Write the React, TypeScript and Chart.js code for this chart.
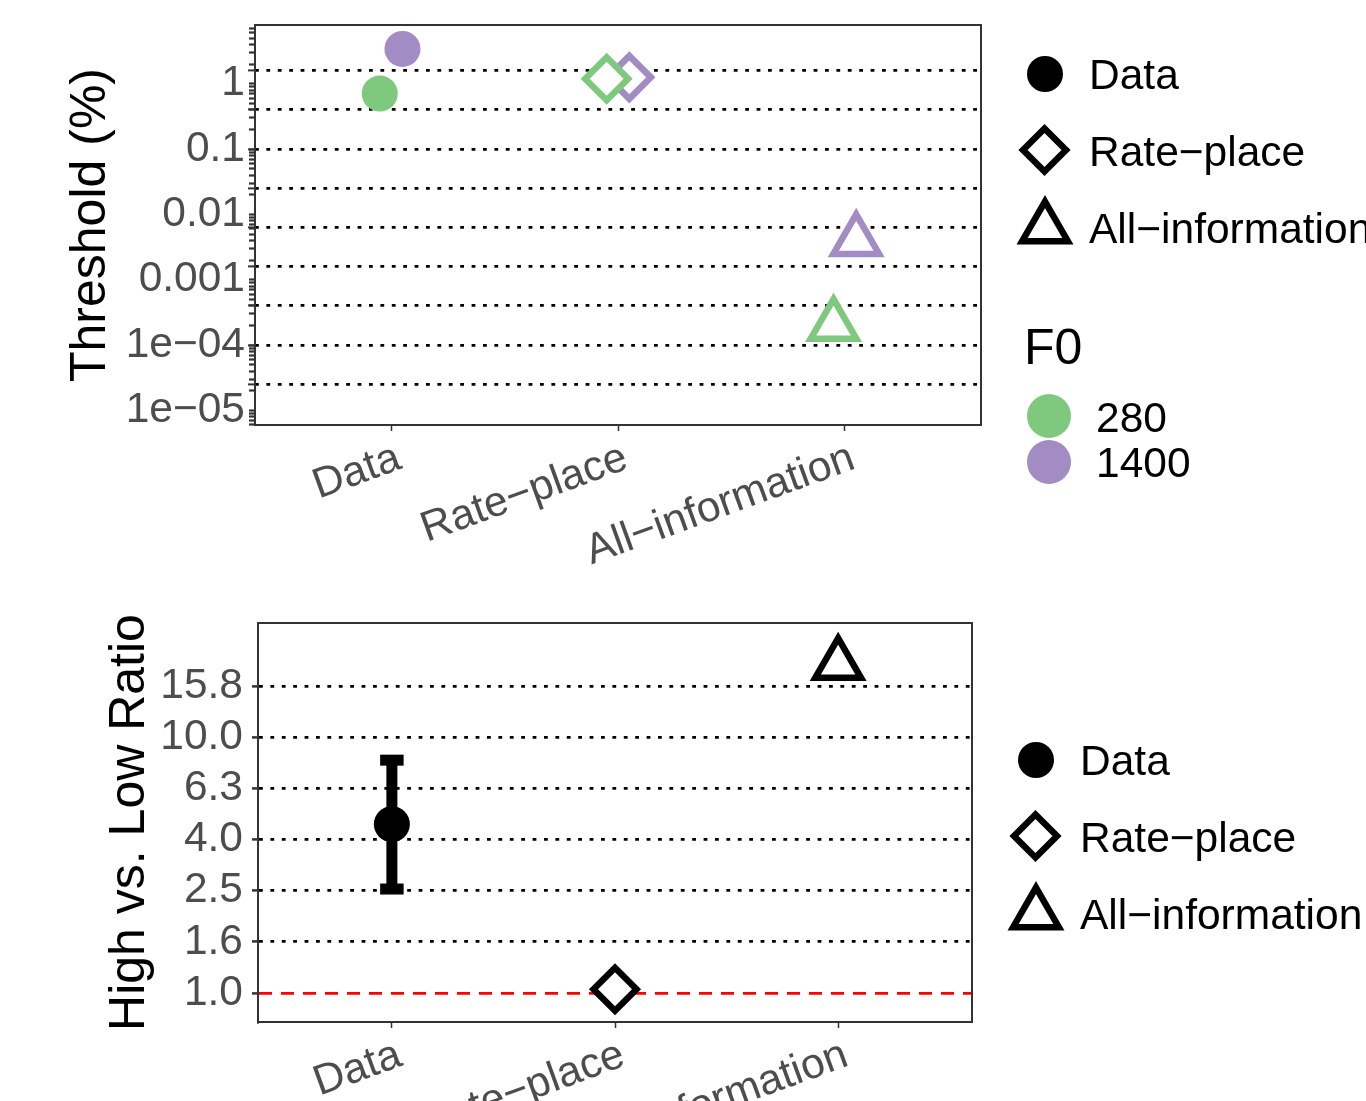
import React, { useEffect, useRef } from 'react';
import { Chart, registerables } from 'chart.js';

Chart.register(...registerables);

const FONT = "'Liberation Sans', Arial, Helvetica, sans-serif";
Chart.defaults.font.family = FONT;

// ---------- data ----------
const models = ['Data', 'Rate−place', 'All−information'];
const f0Levels = ['280', '1400'];
const threshold280 = [0.707, 1.19, 0.000199];
const threshold1400 = [3.4, 1.25, 0.00395];

const thresholdLabelTicks = [1e-5, 1e-4, 1e-3, 1e-2, 0.1, 1];
const thresholdLabels = ['1e−05', '1e−04', '0.001', '0.01', '0.1', '1'];
const thresholdGridTicks = [2.512e-5, 1e-4, 3.981e-4, 1.585e-3, 6.31e-3, 0.02512, 0.1, 0.3981, 1.585];
const logMantissas = [1, 2, 3, 4, 5, 6, 7, 8, 9];
const logDecades = [1e-6, 1e-5, 1e-4, 1e-3, 1e-2, 1e-1, 1];

const ratioValues = [4.57, 1.035, 19.2];
const ratioErrLow = [2.55];
const ratioErrHigh = [8.13];
const ratioTicks = [1, 1.585, 2.512, 3.981, 6.31, 10, 15.85];
const ratioLabels = ['1.0', '1.6', '2.5', '4.0', '6.3', '10.0', '15.8'];

// ---------- styles ----------
const GREEN = '#7FC97F';
const PURPLE = '#A38BC3';
const TICK_COLOR = '#4D4D4D';
const FRAME = '#333333';
const DODGE = 0.05;
const SMALL = 42.5;
const BIG = 50;
const shapeStyles = ['circle', 'rectRot', 'triangle'];
const shapeRadius = [18, 21.5, 26.4];
const shapeBorder = [0, 6.5, 6.5];

const TOP_MIN = Math.pow(10, -5.224);
const TOP_MAX = Math.pow(10, 0.898);
const BOT_MIN = Math.pow(10, -0.113);
const BOT_MAX = Math.pow(10, 1.446);

const zeroPad = (s: any) => {
  s.paddingLeft = 0;
  s.paddingRight = 0;
  s.paddingTop = 0;
  s.paddingBottom = 0;
};

function seriesDataset(values: number[], color: string, dx: number) {
  return {
    xAxisID: 'x',
    yAxisID: 'y',
    data: values.map((v, i) => ({ x: i + dx, y: v })),
    showLine: false,
    pointStyle: shapeStyles,
    pointRadius: shapeRadius,
    pointHoverRadius: shapeRadius,
    pointBorderWidth: shapeBorder,
    pointBackgroundColor: values.map((_, i) => (i === 0 ? color : '#FFFFFF')),
    pointBorderColor: color,
  };
}

function xAxis(height: number) {
  return {
    type: 'linear',
    position: 'bottom',
    min: -0.6,
    max: 2.6,
    bounds: 'data',
    afterBuildTicks: (s: any) => {
      s.ticks = models.map((_, i) => ({ value: i }));
    },
    ticks: {
      autoSkip: false,
      minRotation: 20,
      maxRotation: 20,
      labelOffset: 8,
      padding: 2,
      color: TICK_COLOR,
      font: { size: SMALL, family: FONT },
      callback: (v: any) => models[Math.round(Number(v))],
    },
    grid: { display: true, drawOnChartArea: false, drawTicks: true, tickLength: 6, tickColor: FRAME, tickWidth: 1.5 },
    border: { display: true, color: FRAME, width: 2 },
    afterFit: (s: any) => {
      s.height = height;
      zeroPad(s);
    },
  };
}

const frameTop = {
  type: 'linear',
  position: 'top',
  min: 0,
  max: 1,
  ticks: { display: false },
  grid: { display: false, drawTicks: false },
  border: { display: true, color: FRAME, width: 2 },
  afterFit: (s: any) => {
    s.height = 0;
    zeroPad(s);
  },
};
const frameRight = {
  type: 'linear',
  position: 'right',
  min: 0,
  max: 1,
  ticks: { display: false },
  grid: { display: false, drawTicks: false },
  border: { display: true, color: FRAME, width: 2 },
  afterFit: (s: any) => {
    s.width = 0;
    zeroPad(s);
  },
};

function topConfig(): any {
  const minorTicks = logDecades
    .flatMap((d) => logMantissas.map((m) => m * d))
    .filter((v) => v >= TOP_MIN && v <= TOP_MAX);
  return {
    type: 'scatter',
    data: {
      // green first so it is drawn on top of purple
      datasets: [seriesDataset(threshold280, GREEN, -DODGE), seriesDataset(threshold1400, PURPLE, DODGE)],
    },
    options: {
      responsive: false,
      animation: false,
      events: [],
      layout: { autoPadding: false, padding: { left: 0, right: 385, top: 25, bottom: 0 } },
      plugins: { legend: { display: false }, tooltip: { enabled: false } },
      scales: {
        x: xAxis(155),
        y: {
          type: 'logarithmic',
          position: 'left',
          weight: 10,
          min: TOP_MIN,
          max: TOP_MAX,
          bounds: 'data',
          afterBuildTicks: (s: any) => {
            s.ticks = thresholdLabelTicks.map((v) => ({ value: v }));
          },
          ticks: {
            autoSkip: false,
            padding: 10,
            color: TICK_COLOR,
            font: { size: SMALL, family: FONT },
            callback: (_v: any, i: number) => thresholdLabels[i],
          },
          grid: { display: false, drawTicks: false },
          border: { display: true, color: FRAME, width: 2 },
          title: {
            display: true,
            text: 'Threshold (%)',
            color: '#000000',
            font: { size: BIG, family: FONT },
            padding: { top: 61, bottom: 0 },
          },
          afterFit: (s: any) => {
            s.width = 255;
            zeroPad(s);
          },
        },
        yGrid: {
          type: 'logarithmic',
          position: 'left',
          weight: 0,
          min: TOP_MIN,
          max: TOP_MAX,
          bounds: 'data',
          afterBuildTicks: (s: any) => {
            s.ticks = thresholdGridTicks.map((v) => ({ value: v }));
          },
          ticks: { display: false },
          grid: {
            display: true,
            drawOnChartArea: true,
            color: '#000000',
            lineWidth: 2.8,
            drawTicks: true,
            tickLength: 7,
            tickColor: FRAME,
            tickWidth: 2,
            tickBorderDash: [],
          },
          border: { display: false, dash: [3.8, 7.6] },
          afterFit: (s: any) => {
            s.width = 0;
            zeroPad(s);
          },
        },
        yMinor: {
          type: 'logarithmic',
          position: 'left',
          weight: 0,
          min: TOP_MIN,
          max: TOP_MAX,
          bounds: 'data',
          afterBuildTicks: (s: any) => {
            s.ticks = minorTicks.map((v) => ({ value: v }));
          },
          ticks: { display: false },
          grid: {
            display: true,
            drawOnChartArea: false,
            drawTicks: true,
            tickLength: 6,
            tickColor: FRAME,
            tickWidth: 2.2,
          },
          border: { display: false },
          afterFit: (s: any) => {
            s.width = 0;
            zeroPad(s);
          },
        },
        xTop: frameTop,
        yRight: frameRight,
      },
    },
  };
}

function bottomConfig(): any {
  const isOne = (c: any) => c && c.tick && c.tick.value === 1;
  return {
    type: 'scatter',
    data: {
      datasets: [
        {
          xAxisID: 'x',
          yAxisID: 'y',
          data: ratioValues.map((v, i) => ({ x: i, y: v })),
          showLine: false,
          pointStyle: shapeStyles,
          pointRadius: shapeRadius,
          pointHoverRadius: shapeRadius,
          pointBorderWidth: shapeBorder,
          pointBackgroundColor: ratioValues.map((_, i) => (i === 0 ? '#000000' : '#FFFFFF')),
          pointBorderColor: '#000000',
        },
        {
          xAxisID: 'x',
          yAxisID: 'y',
          data: ratioErrLow.flatMap((lo, i) => [
            { x: i, y: lo },
            { x: i, y: ratioErrHigh[i] },
          ]),
          showLine: true,
          borderColor: '#000000',
          borderWidth: 11,
          pointRadius: 0,
          pointHoverRadius: 0,
        },
        {
          xAxisID: 'x',
          yAxisID: 'y',
          data: ratioErrLow.flatMap((lo, i) => [
            { x: i, y: lo },
            { x: i, y: ratioErrHigh[i] },
          ]),
          showLine: false,
          pointStyle: 'line',
          pointRadius: 11.75,
          pointHoverRadius: 11.75,
          pointBorderWidth: 11,
          pointBorderColor: '#000000',
        },
      ],
    },
    options: {
      responsive: false,
      animation: false,
      events: [],
      layout: { autoPadding: false, padding: { left: 0, right: 394, top: 43, bottom: 0 } },
      plugins: { legend: { display: false }, tooltip: { enabled: false } },
      scales: {
        x: xAxis(158),
        y: {
          type: 'logarithmic',
          position: 'left',
          min: BOT_MIN,
          max: BOT_MAX,
          bounds: 'data',
          afterBuildTicks: (s: any) => {
            s.ticks = ratioTicks.map((v) => ({ value: v }));
          },
          ticks: {
            autoSkip: false,
            padding: 9,
            color: TICK_COLOR,
            font: { size: SMALL, family: FONT },
            callback: (_v: any, i: number) => ratioLabels[i],
          },
          grid: {
            display: true,
            drawOnChartArea: true,
            drawTicks: true,
            tickLength: 6,
            tickWidth: 2.5,
            tickColor: FRAME,
            tickBorderDash: [],
            color: (c: any) => (isOne(c) ? '#FF0000' : '#000000'),
            lineWidth: 2.8,
          },
          border: {
            display: true,
            color: FRAME,
            width: 2,
            dash: (c: any) => (c && c.type === 'tick' ? (isOne(c) ? [13, 9] : [3.8, 7.6]) : []),
          },
          title: {
            display: true,
            text: 'High vs. Low Ratio',
            color: '#000000',
            font: { size: BIG, family: FONT },
            padding: { top: 100, bottom: 0 },
          },
          afterFit: (s: any) => {
            s.width = 258;
            zeroPad(s);
          },
        },
        xTop: frameTop,
        yRight: frameRight,
      },
    },
  };
}

// ---------- legend (SVG) ----------
function Diamond({ cx, cy, r, color }: any) {
  const pts = `${cx - r},${cy} ${cx},${cy - r} ${cx + r},${cy} ${cx},${cy + r}`;
  return <polygon points={pts} fill="#FFFFFF" stroke={color} strokeWidth={6.5} strokeLinejoin="miter" />;
}
function Triangle({ cx, cy, r, color }: any) {
  const h = 0.8660254 * r;
  const pts = `${cx},${cy - r} ${cx + h},${cy + r / 2} ${cx - h},${cy + r / 2}`;
  return <polygon points={pts} fill="#FFFFFF" stroke={color} strokeWidth={6.5} strokeLinejoin="miter" />;
}

function ShapeLegend({ x, y }: { x: number; y: number }) {
  const tx = x + 44;
  const textStyle: any = { fontFamily: FONT, fontSize: SMALL, fill: '#000000' };
  return (
    <g>
      <circle cx={x} cy={y} r={18} fill="#000000" />
      <text x={tx} y={y} dominantBaseline="central" style={textStyle}>
        {models[0]}
      </text>
      <Diamond cx={x - 0.5} cy={y + 76} r={21.5} color="#000000" />
      <text x={tx} y={y + 77} dominantBaseline="central" style={textStyle}>
        {models[1]}
      </text>
      <Triangle cx={x} cy={y + 154} r={26.4} color="#000000" />
      <text x={tx} y={y + 154} dominantBaseline="central" style={textStyle}>
        {models[2]}
      </text>
    </g>
  );
}

export default function App() {
  const topRef = useRef<HTMLCanvasElement>(null);
  const botRef = useRef<HTMLCanvasElement>(null);

  useEffect(() => {
    const c1 = new Chart(topRef.current as HTMLCanvasElement, topConfig());
    const c2 = new Chart(botRef.current as HTMLCanvasElement, bottomConfig());
    return () => {
      c1.destroy();
      c2.destroy();
    };
  }, []);

  const labelStyle: any = { fontFamily: FONT, fontSize: SMALL, fill: '#000000' };

  return (
    <div
      style={{
        position: 'fixed',
        left: 0,
        top: 0,
        width: 1366,
        height: 1101,
        overflow: 'hidden',
        background: '#FFFFFF',
      }}
    >
      <canvas ref={topRef} width={1366} height={580} style={{ position: 'absolute', left: 0, top: 0 }} />
      <canvas ref={botRef} width={1366} height={600} style={{ position: 'absolute', left: 0, top: 580 }} />
      <svg width={1366} height={1101} style={{ position: 'absolute', left: 0, top: 0 }}>
        <ShapeLegend x={1045} y={74} />
        <text x={1024} y={347} dominantBaseline="central" style={{ fontFamily: FONT, fontSize: BIG, fill: '#000000' }}>
          F0
        </text>
        <circle cx={1049} cy={416} r={22} fill={GREEN} />
        <text x={1096} y={417} dominantBaseline="central" style={labelStyle}>
          {f0Levels[0]}
        </text>
        <circle cx={1049} cy={462} r={22} fill={PURPLE} />
        <text x={1096} y={462} dominantBaseline="central" style={labelStyle}>
          {f0Levels[1]}
        </text>
        <ShapeLegend x={1036} y={760} />
      </svg>
    </div>
  );
}
